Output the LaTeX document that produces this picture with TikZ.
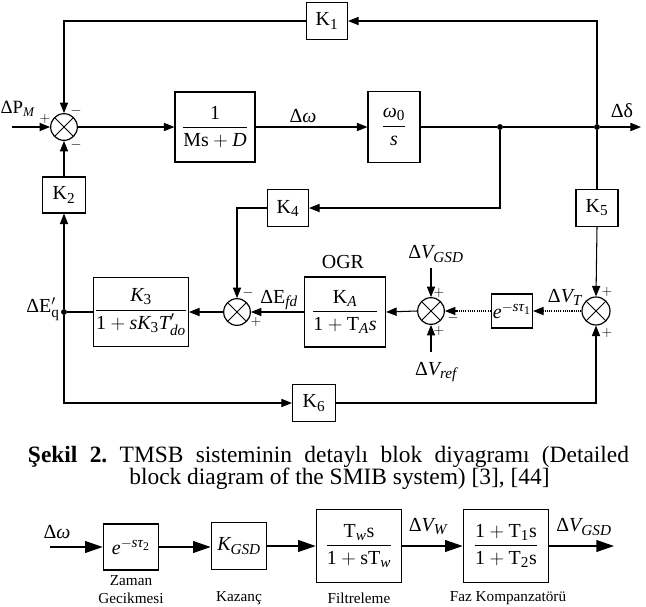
\documentclass[tikz,border=0pt]{standalone}
\usepackage{amsmath}
\usepackage{fontspec}
\setmainfont{Liberation Serif}
\usetikzlibrary{arrows.meta, positioning}
\DeclareMathSizes{17}{17}{13}{10}
\newcommand{\ti}[1]{\textit{#1}}
\newcommand{\tr}[1]{\text{#1}}
\tikzset{
  blk/.style n args={2}{draw, line width=1pt, minimum width=#1, minimum height=#2, inner sep=1pt},
  sumj/.style={circle, draw, line width=1pt, minimum size=0.8cm, inner sep=0pt,
    path picture={\draw[line width=0.7pt]
      (path picture bounding box.north west) -- (path picture bounding box.south east)
      (path picture bounding box.north east) -- (path picture bounding box.south west);}},
  dotj/.style={circle, fill, inner sep=0pt, minimum size=5pt},
  arr/.style={-{Triangle[length=9pt,width=7pt]}},
  barr/.style={-{Triangle[length=15pt,width=10pt]}, line width=1.3pt},
  lbl/.style={inner sep=0pt},
  sgn/.style={inner sep=0pt, font=\fontsize{12}{12}\selectfont},
  note/.style={inner sep=0pt, font=\fontsize{13}{15}\selectfont},
}

\begin{document}
\frenchspacing
\begin{tikzpicture}[x=0.03cm, y=-0.03cm, line width=0.9pt, font=\fontsize{17}{20}\selectfont]
\useasboundingbox (0,0) rectangle (646,606);

% main loop
\node[sumj] (sP) at (64,127) {};
\node[blk={1.23cm}{1.11cm}] (K1) at (327,21) {K$_{\tr{1}}$};
\node[blk={2.4cm}{2.1cm}] (Gm) at (215,127) {$\dfrac{\tr{1}}{\tr{Ms}+\ti{D}}$};
\node[blk={1.56cm}{2.13cm}] (Gw) at (394,127) {$\dfrac{\ti{ω}_{\tr{0}}}{\ti{s}}$};
\node[dotj] (d1) at (500,127) {};
\node[dotj] (d2) at (597,127) {};
\coordinate (out1) at (641,127);
\coordinate (in1) at (12,127);
\node[blk={1.23cm}{1.11cm}] (K4) at (288,208) {K$_{\tr{4}}$};
\node[blk={1.26cm}{1.11cm}] (K5) at (597,208) {K$_{\tr{5}}$};
\node[blk={1.29cm}{1.08cm}] (K2) at (64,195) {K$_{\tr{2}}$};

% excitation loop
\node[sumj] (sE) at (237,312) {};
\node[blk={2.52cm}{2.07cm}] (G3) at (141,312) {$\dfrac{\ti{K}_{\tr{3}}}{\tr{1}+\ti{sK}_{\tr{3}}\ti{T}'_{\ti{do}}}$};
\node[dotj] (dq) at (64,312) {};
\node[blk={1.29cm}{1.11cm}] (K6) at (314,403) {K$_{\tr{6}}$};
\node[sumj, minimum size=0.84cm] (sT) at (596,311) {};
\node[blk={1.23cm}{1.02cm}, inner sep=0pt] (Gd) at (512,311) {$\ti{e}^{-\ti{sτ}_{\tr{1}}}$};
\node[sumj] (sV) at (431,311) {};
\node[blk={2.43cm}{2.1cm}] (GA) at (345,312) {$\dfrac{\tr{K}_{\ti{A}}}{\tr{1}+\tr{T}_{\ti{A}}\ti{s}}$};
\coordinate (vgsd) at (431,268);
\coordinate (vref) at (431,352);

% labels
\node[lbl, anchor=west, font=\fontsize{16}{18}\selectfont] (lPM) at (0,109) {ΔP$_{\ti{M}}$};
\node[lbl] (lw) at (303,116) {Δ$\ti{ω}$};
\node[lbl] (ld) at (622,111) {Δδ};
\node[lbl, anchor=east] (lEq) at (60,309) {ΔE$'_{\tr{q}}$};
\node[lbl] (lEfd) at (279,300) {ΔE$_{\ti{fd}}$};
\node[lbl] (lOGR) at (343,262) {OGR};
\node[lbl] (lVgsd) at (436,254) {Δ$\ti{V}_{\ti{GSD}}$};
\node[lbl] (lVref) at (436,372) {Δ$\ti{V}_{\ti{ref}}$};
\node[lbl] (lVT) at (565,297) {Δ$\ti{V}_{\ti{T}}$};
\node[sgn] at (45,119) {$+$};
\node[sgn] at (76,111) {$-$};
\node[sgn] at (76,145) {$-$};
\node[sgn] at (248,293) {$-$};
\node[sgn] at (256,322) {$+$};
\node[sgn] at (439,293) {$+$};
\node[sgn] at (453,318) {$-$};
\node[sgn] at (439,331) {$+$};
\node[sgn] at (607,292) {$+$};
\node[sgn] at (607,333) {$+$};

% connectors
\draw[arr] (in1) -- (sP.west);
\draw[arr] (sP.east) -- (Gm.west);
\draw[arr] (Gm.east) -- (Gw.west);
\draw (Gw.east) -- (d1) -- (d2);
\draw[arr] (d2) -- (out1);
\draw[arr] (d2) |- (K1.east);
\draw[arr] (K1.west) -| (sP.north);
\draw (d2) -- (K5.north);
\draw[arr] (K5.south) -- (sT.north);
\draw[arr] (d1) |- (K4.east);
\draw[arr] (K4.west) -| (sE.north);
\draw[arr, densely dotted] (sT.west) -- (Gd.east);
\draw[arr, densely dotted] (Gd.west) -- (sV.east);
\draw[arr] (vgsd) -- (sV.north);
\draw[arr] (vref) -- (sV.south);
\draw[arr] (sV.west) -- (GA.east);
\draw[arr] (GA.west) -- (sE.east);
\draw[arr] (sE.west) -- (G3.east);
\draw (G3.west) -- (dq);
\draw[arr] (dq) -- (K2.south);
\draw[arr] (K2.north) -- (sP.south);
\draw[arr] (dq) |- (K6.west);
\draw[arr] (K6.east) -| (sT.south);

% caption
\node[lbl, font=\fontsize{20}{24}\selectfont] (cap1) at (328.5,457)
  {\hbox to 18.03cm{\textbf{Şekil 2.} TMSB sisteminin detaylı blok diyagramı (Detailed}};
\node[lbl, font=\fontsize{20}{24}\selectfont] (cap2) at (339.5,479)
  {block diagram of the SMIB system) [3], [44]};

% stabiliser chain
\coordinate (in2) at (50,547);
\node[blk={1.65cm}{1.38cm}, line width=1.3pt] (B1) at (131,547) {$\ti{e}^{-\ti{sτ}_{\tr{2}}}$};
\node[blk={1.65cm}{1.41cm}, line width=1.3pt] (B2) at (239,546) {$\ti{K}_{\ti{GSD}}$};
\node[blk={2.55cm}{2.19cm}, line width=1.3pt] (B3) at (359,546) {$\dfrac{\tr{T}_{\ti{w}}\tr{s}}{\tr{1}+\tr{sT}_{\ti{w}}}$};
\node[blk={2.55cm}{2.19cm}, line width=1.3pt] (B4) at (506,546) {$\dfrac{\tr{1}+\tr{T}_{\tr{1}}\tr{s}}{\tr{1}+\tr{T}_{\tr{2}}\tr{s}}$};
\coordinate (out2) at (614,546);
\node[lbl] (lw2) at (57,532) {Δ$\ti{ω}$};
\node[lbl] (lVW) at (428,527) {Δ$\ti{V}_{\ti{W}}$};
\node[lbl] (lVG) at (584,527) {Δ$\ti{V}_{\ti{GSD}}$};
\node[note] at (131,581) {Zaman};
\node[note] at (131,598) {Gecikmesi};
\node[note] at (239,598) {Kazanç};
\node[note] at (359,598) {Filtreleme};
\node[note] at (508,598) {Faz Kompanzatörü};
\draw[barr] (in2) -- (B1.west);
\draw[barr] (B1.east) -- (B2.west |- B1.east);
\draw[barr] (B2.east) -- (B3.west);
\draw[barr] (B3.east) -- (B4.west);
\draw[barr] (B4.east) -- (out2);
\end{tikzpicture}
\end{document}
